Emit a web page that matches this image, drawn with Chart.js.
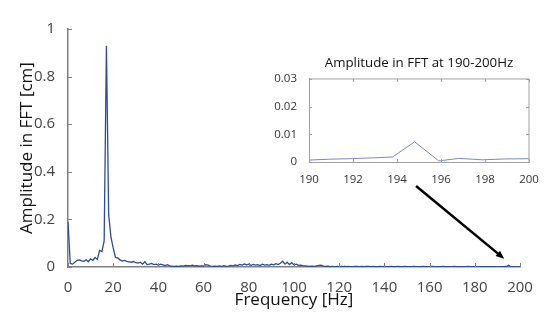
<!DOCTYPE html>
<html>
<head>
<meta charset="utf-8">
<script src="https://cdn.jsdelivr.net/npm/chart.js@4"></script>
<style>
body{margin:0;background:#fff;}
#wrap{position:relative;width:550px;height:322px;overflow:hidden;}
#mainChart{position:absolute;left:0;top:0;}
#insetChart{position:absolute;left:265px;top:45px;}
</style>
</head>
<body>
<div id="wrap">
<canvas id="mainChart" width="550" height="322"></canvas>
<canvas id="insetChart" width="285" height="139"></canvas>
</div>
<script>
// main spectrum, 1 Hz per bin from 0 Hz
const freqStep = 1;
const mainAmp = [
0.19,0.015,0.012,0.02,0.028,0.03,0.026,0.024,0.03,0.022,
0.034,0.028,0.04,0.032,0.07,0.065,0.11,0.93,0.22,0.125,
0.08,0.04,0.038,0.03,0.025,0.028,0.024,0.022,0.02,0.023,
0.018,0.016,0.02,0.012,0.022,0.01,0.012,0.015,0.01,0.012,
0.008,0.012,0.009,0.006,0.01,0.005,0.004,0.003,0.004,0.003,
0.005,0.004,0.007,0.006,0.005,0.008,0.005,0.006,0.004,0.005,
0.004,0.01,0.008,0.004,0.003,0.004,0.003,0.005,0.003,0.006,
0.003,0.004,0.007,0.005,0.009,0.006,0.011,0.008,0.013,0.009,
0.012,0.007,0.011,0.008,0.01,0.006,0.012,0.008,0.01,0.007,
0.012,0.009,0.014,0.01,0.016,0.024,0.012,0.02,0.01,0.018,
0.009,0.012,0.007,0.008,0.006,0.005,0.004,0.003,0.004,0.003,
0.005,0.007,0.008,0.004,0.003,0.004,0.002,0.003,0.002,0.003,
0.002,0.003,0.002,0.002,0.003,0.002,0.001,0.002,0.002,0.001,
0.002,0.001,0.002,0.002,0.001,0.002,0.001,0.001,0.002,0.001,
0.002,0.001,0.001,0.002,0.001,0.001,0.002,0.001,0.001,0.002,
0.001,0.001,0.001,0.002,0.001,0.001,0.001,0.002,0.001,0.001,
0.001,0.002,0.001,0.001,0.001,0.001,0.002,0.001,0.001,0.001,
0.001,0.002,0.001,0.001,0.001,0.001,0.001,0.002,0.001,0.001,
0.001,0.001,0.001,0.001,0.001,0.001,0.001,0.001,0.001,0.001,
0.0007,0.001,0.0012,0.0015,0.002,0.0073,0.0004,0.0013,0.0008,0.0011,
0.0012
];

// zoomed view 190-200 Hz
const insetFreq = [190, 190.9, 191.9, 192.9, 193.8, 194.8, 195.9, 196.8, 197.9, 198.9, 200];
const insetAmp = [0.0007, 0.0010, 0.0012, 0.0015, 0.0018, 0.0073, 0.0004, 0.0013, 0.0008, 0.0011, 0.0012];

// arrow from the inset down to the 195 Hz bump (main chart data coords)
const arrowFrom = [154, 0.34];
const arrowTo = [193, 0.035];

const mainPoints = mainAmp.map((v, i) => ({x: i * freqStep, y: v}));
const insetPoints = insetFreq.map((f, i) => ({x: f, y: insetAmp[i]}));

const inwardTicks = {
  id: 'inwardTicks',
  afterDatasetsDraw(chart, args, opts) {
    const {ctx, chartArea: a, scales: {x, y}} = chart;
    const len = opts.len || 4;
    ctx.save();
    ctx.strokeStyle = opts.color;
    ctx.lineWidth = 1;
    ctx.beginPath();
    x.ticks.forEach(t => {
      const px = Math.round(x.getPixelForValue(t.value)) + 0.5;
      ctx.moveTo(px, a.bottom); ctx.lineTo(px, a.bottom - len);
      if (opts.box) { ctx.moveTo(px, a.top); ctx.lineTo(px, a.top + len); }
    });
    y.ticks.forEach(t => {
      const py = Math.round(y.getPixelForValue(t.value)) + 0.5;
      ctx.moveTo(a.left, py); ctx.lineTo(a.left + len, py);
      if (opts.box) { ctx.moveTo(a.right, py); ctx.lineTo(a.right - len, py); }
    });
    ctx.stroke();
    if (opts.box) {
      ctx.lineWidth = opts.boxWidth || 1;
      ctx.beginPath();
      ctx.moveTo(a.left, a.top); ctx.lineTo(a.right, a.top); ctx.lineTo(a.right, a.bottom);
      ctx.stroke();
    }
    ctx.restore();
  }
};

const arrowPlugin = {
  id: 'arrowPlugin',
  afterDraw(chart) {
    if (chart.canvas.id !== 'mainChart') return;
    const {ctx, scales: {x, y}} = chart;
    const x1 = x.getPixelForValue(arrowFrom[0]), y1 = y.getPixelForValue(arrowFrom[1]);
    const x2 = x.getPixelForValue(arrowTo[0]), y2 = y.getPixelForValue(arrowTo[1]);
    const ang = Math.atan2(y2 - y1, x2 - x1);
    const head = 9;
    ctx.save();
    ctx.strokeStyle = '#000';
    ctx.fillStyle = '#000';
    ctx.lineWidth = 2.5;
    ctx.beginPath();
    ctx.moveTo(x1, y1);
    ctx.lineTo(x2 - Math.cos(ang) * head * 0.8, y2 - Math.sin(ang) * head * 0.8);
    ctx.stroke();
    ctx.beginPath();
    ctx.moveTo(x2, y2);
    ctx.lineTo(x2 - head * Math.cos(ang - 0.4), y2 - head * Math.sin(ang - 0.4));
    ctx.lineTo(x2 - head * Math.cos(ang + 0.4), y2 - head * Math.sin(ang + 0.4));
    ctx.closePath();
    ctx.fill();
    ctx.restore();
  }
};

const plainNum = v => String(Number(v.toFixed(3)));

Chart.defaults.font.family = '"Open Sans", "Liberation Sans", sans-serif';

new Chart(document.getElementById('mainChart'), {
  type: 'line',
  data: {
    datasets: [{
      data: mainPoints,
      borderColor: '#2d4b9b',
      borderWidth: 1.3,
      pointRadius: 0,
      tension: 0
    }]
  },
  options: {
    responsive: false,
    animation: false,
    layout: {padding: {top: 29, right: 30, left: 0, bottom: 0}},
    plugins: {
      legend: {display: false},
      tooltip: {enabled: false},
      inwardTicks: {color: '#808080', len: 4}
    },
    scales: {
      x: {
        type: 'linear',
        min: 0, max: 200,
        afterFit: s => { s.height = 55; },
        grid: {display: false},
        border: {color: '#808080', width: 1.5},
        ticks: {stepSize: 20, color: '#444', font: {size: 15}, padding: 4, maxRotation: 0},
        title: {display: true, text: 'Frequency [Hz]', color: '#111', font: {size: 17}, padding: {top: 0, bottom: 12}}
      },
      y: {
        min: 0, max: 1,
        afterFit: s => { s.width = 68; },
        grid: {display: false},
        border: {color: '#808080', width: 1.5},
        ticks: {stepSize: 0.2, color: '#444', font: {size: 15}, padding: 5, callback: plainNum},
        title: {display: true, text: 'Amplitude in FFT [cm]', color: '#111', font: {size: 17}, padding: {top: 17, bottom: 0}}
      }
    }
  },
  plugins: [inwardTicks, arrowPlugin]
});

new Chart(document.getElementById('insetChart'), {
  type: 'line',
  data: {
    datasets: [{
      data: insetPoints,
      borderColor: '#7d89c6',
      borderWidth: 1,
      pointRadius: 0,
      tension: 0
    }]
  },
  options: {
    responsive: false,
    animation: false,
    layout: {padding: {top: 0, right: 21, left: 0, bottom: 0}},
    plugins: {
      legend: {display: false},
      tooltip: {enabled: false},
      title: {display: true, fullSize: false, text: 'Amplitude in FFT at 190-200Hz', color: '#111', font: {size: 13.3, weight: 'normal'}, padding: {top: 10, bottom: 8}},
      inwardTicks: {color: '#a0a0a0', len: 3, box: true}
    },
    scales: {
      x: {
        type: 'linear',
        min: 190, max: 200,
        afterFit: s => { s.height = 22; },
        grid: {display: false},
        border: {color: '#a0a0a0', width: 1},
        ticks: {stepSize: 2, color: '#333', font: {size: 11.5}, padding: 3, maxRotation: 0}
      },
      y: {
        min: 0, max: 0.03,
        afterFit: s => { s.width = 44; },
        grid: {display: false},
        border: {color: '#a0a0a0', width: 1},
        ticks: {stepSize: 0.01, color: '#333', font: {size: 11.5}, padding: 4, callback: plainNum}
      }
    }
  },
  plugins: [inwardTicks]
});
</script>
</body>
</html>
